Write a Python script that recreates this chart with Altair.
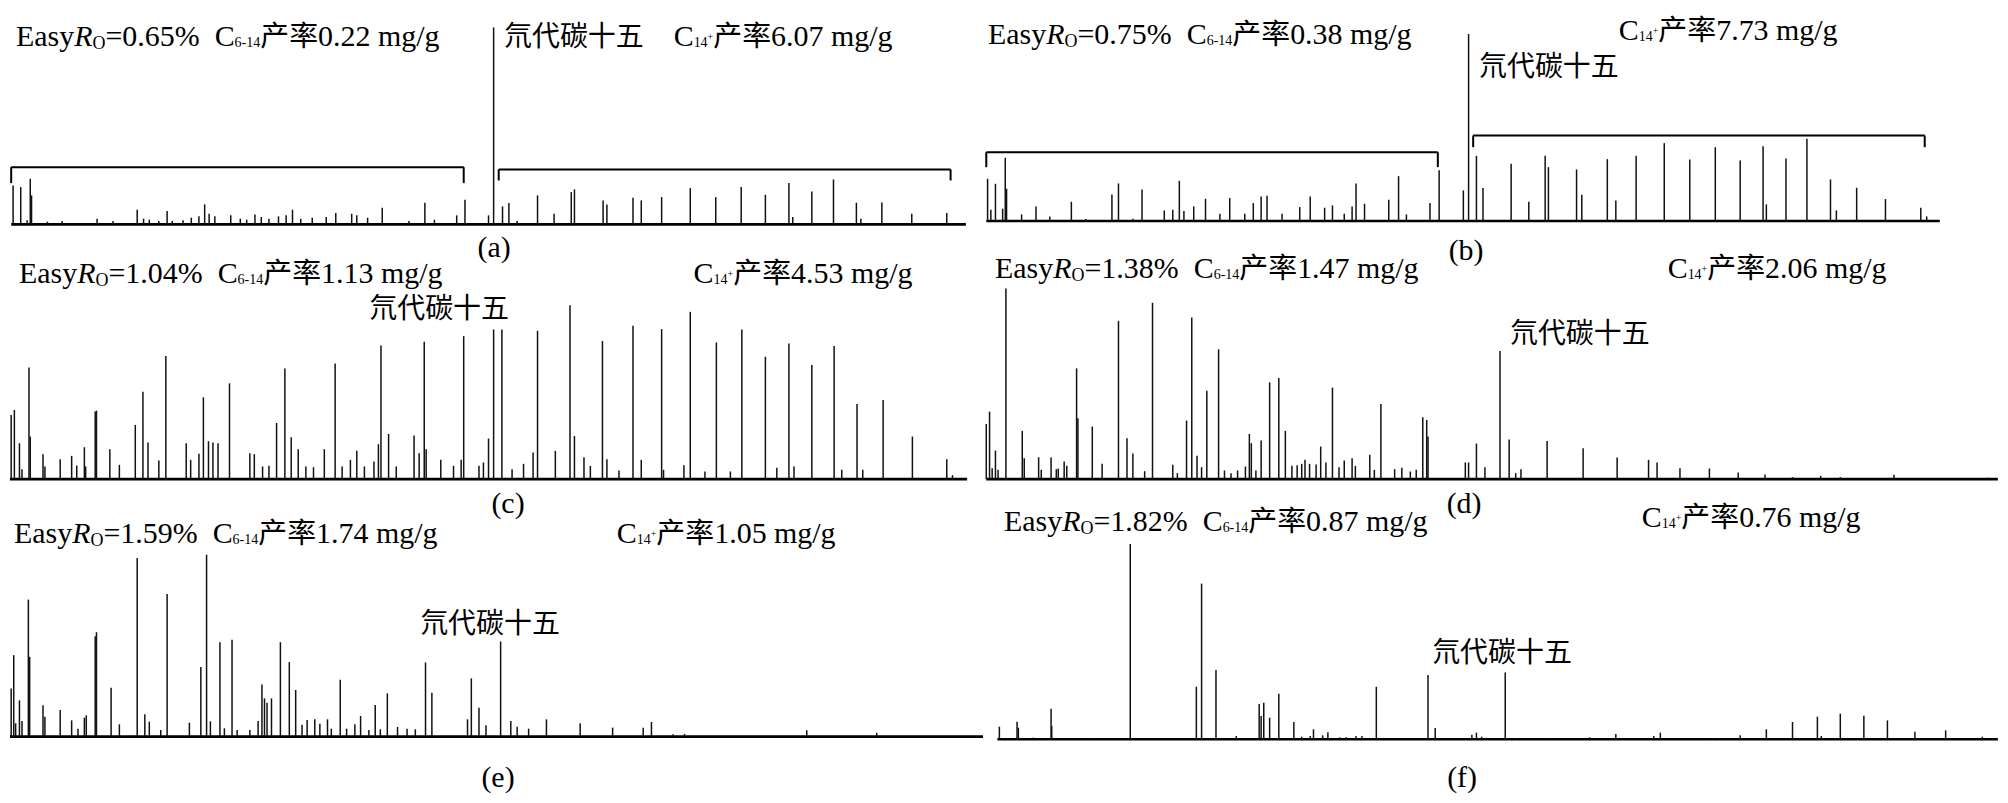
import altair as alt
import pandas as pd

# ---------------- chromatogram data: retention time (min) and peak intensity (arb. units) ----------------
a_rt = [0.32, 0.80, 1.20, 1.40, 1.48, 2.48, 3.40, 5.60, 6.60, 8.12, 8.52, 8.88, 9.48, 10.00, 10.32,
        11.00, 11.52, 12.00, 12.36, 12.64, 13.00, 14.00, 14.60, 15.00, 15.52, 15.92, 16.40, 17.00, 17.48, 17.88,
        18.40, 19.12, 20.00, 20.60, 21.60, 21.92, 22.60, 23.52, 25.20, 26.20, 26.80, 28.20, 28.72, 30.20, 30.52,
        31.08, 31.48, 32.00, 33.28, 34.32, 35.40, 35.60, 37.40, 37.64, 39.28, 39.80, 41.08, 42.88, 44.48, 46.08,
        47.60, 49.08, 49.32, 50.52, 51.88, 53.32, 53.60, 54.92, 56.80, 59.00]
a_int = [117, 112, 12, 137, 87, 8, 10, 17, 10, 44, 17, 14, 10, 40, 10,
         12, 20, 24, 60, 32, 24, 27, 17, 14, 30, 22, 17, 24, 27, 44,
         17, 20, 22, 34, 32, 27, 20, 50, 10, 65, 14, 27, 74, 27, 592,
         54, 64, 10, 87, 32, 97, 105, 72, 60, 80, 72, 82, 109, 82, 112,
         89, 124, 22, 99, 135, 65, 17, 66, 32, 34]

b_rt = [0.40, 0.60, 0.88, 1.32, 1.48, 1.56, 2.48, 3.36, 4.20, 5.52, 6.40, 8.00, 8.40, 9.28, 9.84,
        11.20, 11.72, 12.12, 12.40, 13.00, 13.72, 14.60, 15.20, 16.12, 16.64, 17.12, 17.48, 18.40, 19.48, 20.12,
        21.00, 21.48, 22.20, 22.68, 22.92, 23.44, 24.92, 25.52, 26.00, 27.44, 28.00, 29.48, 29.80, 30.28, 30.68,
        32.40, 33.48, 34.48, 34.68, 36.40, 36.72, 38.28, 38.80, 40.04, 41.76, 43.32, 44.88, 46.40, 47.80, 48.00,
        49.20, 50.48, 51.92, 52.28, 53.52, 55.28, 57.44, 57.80]
b_int = [127, 34, 112, 37, 190, 97, 20, 44, 14, 58, 6, 80, 113, 7, 95,
         32, 34, 121, 30, 44, 67, 22, 69, 22, 54, 74, 76, 22, 42, 74,
         40, 47, 22, 44, 113, 52, 64, 135, 20, 54, 153, 92, 562, 196, 99,
         172, 58, 196, 162, 155, 79, 186, 62, 196, 234, 185, 222, 182, 225, 50,
         188, 247, 125, 32, 100, 66, 40, 14]

c_rt = [0.20, 0.40, 0.72, 0.88, 1.32, 1.40, 2.20, 2.32, 3.28, 4.00, 4.32, 4.80, 4.88, 5.48, 5.56,
        6.40, 7.00, 8.00, 8.48, 8.80, 9.48, 9.92, 11.20, 11.48, 12.00, 12.28, 12.60, 12.88, 13.20, 13.92,
        15.20, 15.48, 16.00, 16.40, 16.88, 17.40, 17.80, 18.24, 18.72, 19.20, 19.88, 20.56, 21.00, 21.52, 21.92,
        22.40, 23.00, 23.28, 23.44, 23.92, 24.40, 25.52, 25.84, 26.16, 26.28, 27.20, 28.00, 28.48, 28.64, 29.60,
        29.88, 30.20, 30.52, 31.04, 31.68, 32.40, 33.00, 33.28, 34.40, 35.32, 35.60, 36.20, 36.60, 37.36, 37.64,
        38.40, 39.28, 39.80, 41.08, 41.20, 42.48, 42.88, 43.80, 44.52, 45.40, 46.12, 47.60, 48.32, 49.08, 49.40,
        50.52, 51.92, 52.40, 53.36, 53.72, 55.00, 56.84, 59.00, 59.36]
c_int = [193, 208, 108, 30, 336, 128, 75, 38, 60, 70, 41, 96, 38, 203, 206,
         90, 43, 163, 263, 110, 56, 370, 108, 58, 76, 246, 114, 110, 108, 288,
         78, 75, 38, 40, 169, 333, 126, 90, 38, 36, 90, 348, 38, 58, 85,
         38, 53, 105, 402, 136, 38, 131, 78, 413, 90, 58, 40, 58, 430, 40,
         50, 122, 450, 450, 30, 46, 80, 446, 85, 523, 130, 66, 40, 415, 60,
         26, 461, 58, 451, 28, 42, 503, 23, 411, 23, 450, 368, 34, 408, 38,
         343, 400, 28, 226, 28, 238, 128, 60, 12]

d_rt = [0.32, 0.52, 0.68, 0.88, 1.04, 1.52, 2.52, 2.64, 3.52, 3.68, 4.28, 4.60, 4.72, 5.08, 5.24,
        5.84, 5.92, 6.80, 7.40, 8.40, 8.92, 9.28, 10.00, 10.48, 11.72, 12.00, 12.56, 12.88, 13.20, 13.48,
        13.80, 14.52, 14.88, 15.28, 15.68, 16.16, 16.40, 16.52, 16.80, 17.12, 17.64, 18.20, 18.60, 19.00, 19.32,
        19.60, 19.80, 20.08, 20.48, 20.76, 21.08, 21.48, 21.88, 22.20, 22.68, 22.88, 23.76, 24.04, 24.44, 25.28,
        25.72, 26.24, 26.60, 27.00, 27.24, 27.32, 29.60, 29.80, 30.28, 30.80, 31.72, 32.28, 32.68, 33.00, 34.60,
        36.80, 38.88, 40.80, 41.32, 42.72, 44.52, 46.28, 47.92, 49.60, 51.32, 52.52, 55.80, 61.60]
d_int = [166, 203, 33, 86, 28, 573, 145, 63, 66, 28, 65, 30, 32, 53, 40,
         333, 183, 158, 46, 476, 123, 77, 24, 530, 43, 18, 176, 486, 70, 36,
         266, 390, 26, 18, 26, 38, 136, 108, 26, 116, 291, 304, 145, 40, 42,
         46, 58, 46, 44, 98, 50, 275, 36, 56, 63, 40, 73, 28, 226, 30,
         34, 23, 28, 186, 178, 128, 50, 50, 107, 36, 385, 119, 18, 30, 115,
         93, 65, 58, 50, 33, 32, 20, 14, 6, 10, 6, 13, 4]

e_rt = [0.20, 0.36, 0.48, 0.72, 0.88, 1.28, 1.36, 2.20, 2.32, 3.28, 4.00, 4.40, 4.80, 4.92, 5.48,
        5.56, 6.48, 7.00, 8.12, 8.60, 8.88, 9.60, 10.00, 11.40, 12.12, 12.48, 12.72, 13.32, 13.60, 14.08,
        14.40, 15.20, 15.72, 15.96, 16.12, 16.28, 16.56, 17.12, 17.68, 18.08, 18.48, 18.80, 19.28, 19.60, 20.08,
        20.32, 20.88, 21.28, 21.80, 22.16, 22.68, 23.08, 23.40, 23.84, 24.48, 25.08, 25.60, 26.24, 26.64, 28.88,
        29.12, 29.60, 30.04, 30.96, 31.60, 32.00, 32.72, 33.84, 35.96, 38.00, 39.92, 40.44, 41.80, 42.52, 50.20,
        54.60]
e_int = [145, 245, 40, 109, 47, 412, 240, 94, 60, 80, 49, 24, 57, 64, 302,
         314, 147, 37, 537, 67, 45, 20, 429, 42, 209, 547, 46, 284, 25, 291,
         20, 20, 47, 157, 115, 102, 115, 284, 224, 140, 36, 50, 52, 39, 52,
         24, 171, 24, 37, 62, 20, 95, 22, 130, 29, 24, 22, 223, 132, 52,
         175, 87, 34, 286, 47, 30, 24, 52, 40, 27, 27, 44, 7, 8, 19,
         12]

f_rt = [1.12, 2.20, 2.28, 3.20, 4.28, 4.32, 6.60, 9.12, 13.16, 13.48, 14.36, 15.60, 17.00, 17.12, 17.28,
        17.64, 18.20, 19.12, 19.60, 20.12, 20.32, 20.88, 21.20, 21.92, 22.32, 22.92, 23.28, 24.16, 27.32, 27.76,
        30.00, 30.28, 30.60, 32.04, 32.72, 34.52, 37.20, 38.80, 41.12, 41.52, 44.68, 45.12, 46.40, 48.00, 49.60,
        51.12, 51.36, 52.52, 53.96, 55.40, 57.08, 58.96, 61.20]
f_int = [38, 53, 35, 5, 92, 40, 3, 587, 158, 468, 208, 10, 106, 70, 110,
         65, 137, 52, 8, 10, 30, 12, 21, 6, 6, 10, 10, 158, 193, 34,
         14, 20, 8, 201, 4, 4, 6, 16, 10, 20, 4, 4, 12, 30, 52,
         68, 10, 77, 71, 57, 23, 27, 8]

# text values
easy_ro = ["0.65", "0.75", "1.04", "1.38", "1.59", "1.82"]
yield_c6_14 = ["0.22", "0.38", "1.13", "1.47", "1.74", "0.87"]
yield_c14 = ["6.07", "7.73", "4.53", "2.06", "1.05", "0.76"]
panel_tags = ["(a)", "(b)", "(c)", "(d)", "(e)", "(f)"]
std_label = "氘代碳十五"

# ---------------- layout (pixels, per panel) ----------------
FONT_LATIN = "'Liberation Serif', 'Times New Roman', Times, 'DejaVu Serif', serif"
FONT_CJK = "'Noto Sans CJK SC', 'Noto Sans CJK TC', sans-serif"
FS = 30      # main latin font size
FSK = 29     # CJK font size
LEFT_X = [-3, 953.6]
RIGHT_X = [-3, 980.6]
layout = [
    dict(w=975, h=254, xr=LEFT_X, ymax=592, base=216.0, top=18.7, line=(0.2, 60.2),
         easy=(5, 37), c14=(664, 37), std=(494, 37), tag=(484, 249),
         brackets=[(0.2, 28.64, 172, 124), (30.84, 59.24, 165, 132)]),
    dict(w=1016, h=254, xr=RIGHT_X, ymax=562, base=212.7, top=25.3, line=(0.32, 58.6),
         easy=(4, 35), c14=(636, 31), std=(496, 67), tag=(483, 252),
         brackets=[(0.32, 27.92, 207, 162), (30.08, 57.68, 257, 222)]),
    dict(w=975, h=256, xr=LEFT_X, ymax=523, base=217.3, top=43.0, line=(0.12, 60.28),
         easy=(8, 21), c14=(684, 21), std=(359, 56), tag=(498, 251), brackets=[]),
    dict(w=1016, h=256, xr=RIGHT_X, ymax=573, base=217.3, top=26.3, line=(0.32, 62.15),
         easy=(11, 16), c14=(685, 16), std=(527, 81), tag=(481, 251), brackets=[]),
    dict(w=975, h=272, xr=LEFT_X, ymax=547, base=219.3, top=37.0, line=(0.12, 61.28),
         easy=(3, 25), c14=(607, 25), std=(410, 115), tag=(488, 270), brackets=[]),
    dict(w=1016, h=272, xr=RIGHT_X, ymax=587, base=222.0, top=26.3, line=(1.0, 62.15),
         easy=(20, 13), c14=(659, 9), std=(449, 145), tag=(479, 270), brackets=[]),
]

# Times / Liberation Serif advance widths (1/1000 em)
ADV = {" ": 250, "%": 833, "(": 333, ")": 333, "+": 564, "-": 333, ".": 250, "/": 278, "=": 564,
       "C": 667, "E": 611, "O": 722, "R": 611, "a": 444, "g": 500, "m": 778, "s": 389, "y": 500}


def adv(s, fs):
    tot = 0
    for ch in s:
        if ch.isdigit():
            tot += 500
        elif ch in ADV:
            tot += ADV[ch]
        elif ord(ch) > 0x2E80:
            tot += 1000
        else:
            tot += 500
    return tot * fs / 1000.0


def run(x, y, parts, rows):
    for text, fs, dy, style in parts:
        if text.strip():
            rows.append(dict(px=x, py=y + dy, text=text, fs=fs, style=style))
        x += adv(text, fs)


def panel(rt, inten, i):
    L = layout[i]

    def xs():
        return alt.Scale(domain=[0, 60], range=L["xr"], nice=False, zero=False)

    def ys():
        return alt.Scale(domain=[0, L["ymax"]], range=[L["base"], L["top"]], nice=False)

    peaks = alt.Chart(pd.DataFrame({"rt": rt, "intensity": inten})).mark_rule(
        color="#111111", strokeWidth=1.5).encode(
        x=alt.X("rt:Q", scale=xs(), axis=None),
        y=alt.Y("intensity:Q", scale=ys(), axis=None),
        y2=alt.datum(0),
    )
    base = alt.Chart(pd.DataFrame({"s": [L["line"][0]], "e": [L["line"][1]], "z": [0]})).mark_rule(
        color="black", strokeWidth=2.6).encode(
        x=alt.X("s:Q", scale=xs(), axis=None), x2="e:Q",
        y=alt.Y("z:Q", scale=ys(), axis=None),
    )
    layers = [base, peaks]

    if L["brackets"]:
        segs = []
        for t1, t2, h, hl in L["brackets"]:
            segs.append(dict(x=t1, x2=t2, y=h, y2=h))
            segs.append(dict(x=t1, x2=t1, y=h, y2=hl))
            segs.append(dict(x=t2, x2=t2, y=h, y2=hl))
        br = alt.Chart(pd.DataFrame(segs)).mark_rule(color="black", strokeWidth=2).encode(
            x=alt.X("x:Q", scale=xs(), axis=None), x2="x2:Q",
            y=alt.Y("y:Q", scale=ys(), axis=None), y2="y2:Q")
        layers.append(br)

    rows = []
    ex, ey = L["easy"]
    run(ex, ey, [("Easy", FS, 0, "n"), ("R", FS, 0, "i"), ("O", 18, 3, "n"),
                 ("=" + easy_ro[i] + "%", FS, 0, "n"), ("  ", FS, 0, "n"), ("C", FS, 0, "n"),
                 ("6-14", 14, 1, "n"), ("产率", FSK, 0, "k"), (yield_c6_14[i] + " mg/g", FS, 0, "n")], rows)
    cx, cy = L["c14"]
    run(cx, cy, [("C", FS, 0, "n"), ("14", 14, 1, "n"), ("+", 10, -6, "n"),
                 ("产率", FSK, 0, "k"), (yield_c14[i] + " mg/g", FS, 0, "n")], rows)
    sx, sy = L["std"]
    run(sx, sy, [(std_label, 28, 0, "k")], rows)
    tdf = pd.DataFrame(rows)

    def txt(df, font, **kw):
        return alt.Chart(df).mark_text(baseline="alphabetic", font=font, color="black", **kw).encode(
            x=alt.X("px:Q", scale=None, axis=None),
            y=alt.Y("py:Q", scale=None, axis=None),
            text="text:N",
            size=alt.Size("fs:Q", scale=None, legend=None),
        )

    layers.append(txt(tdf[tdf["style"] == "n"], FONT_LATIN, align="left"))
    layers.append(txt(tdf[tdf["style"] == "i"], FONT_LATIN, align="left", fontStyle="italic"))
    layers.append(txt(tdf[tdf["style"] == "k"], FONT_CJK, align="left"))
    tx, ty = L["tag"]
    layers.append(txt(pd.DataFrame([dict(px=tx, py=ty, text=panel_tags[i], fs=FS)]), FONT_LATIN,
                      align="center"))

    return alt.layer(*layers).resolve_scale(x="independent", y="independent", size="independent").properties(
        width=L["w"], height=L["h"])


panels = [
    panel(a_rt, a_int, 0), panel(b_rt, b_int, 1),
    panel(c_rt, c_int, 2), panel(d_rt, d_int, 3),
    panel(e_rt, e_int, 4), panel(f_rt, f_int, 5),
]

chart = alt.concat(*panels, columns=2, spacing=0, bounds="flush").properties(
    padding=0, background="white").configure_view(stroke=None)

chart.save("out.html", embed_options={"renderer": "svg", "actions": False})
